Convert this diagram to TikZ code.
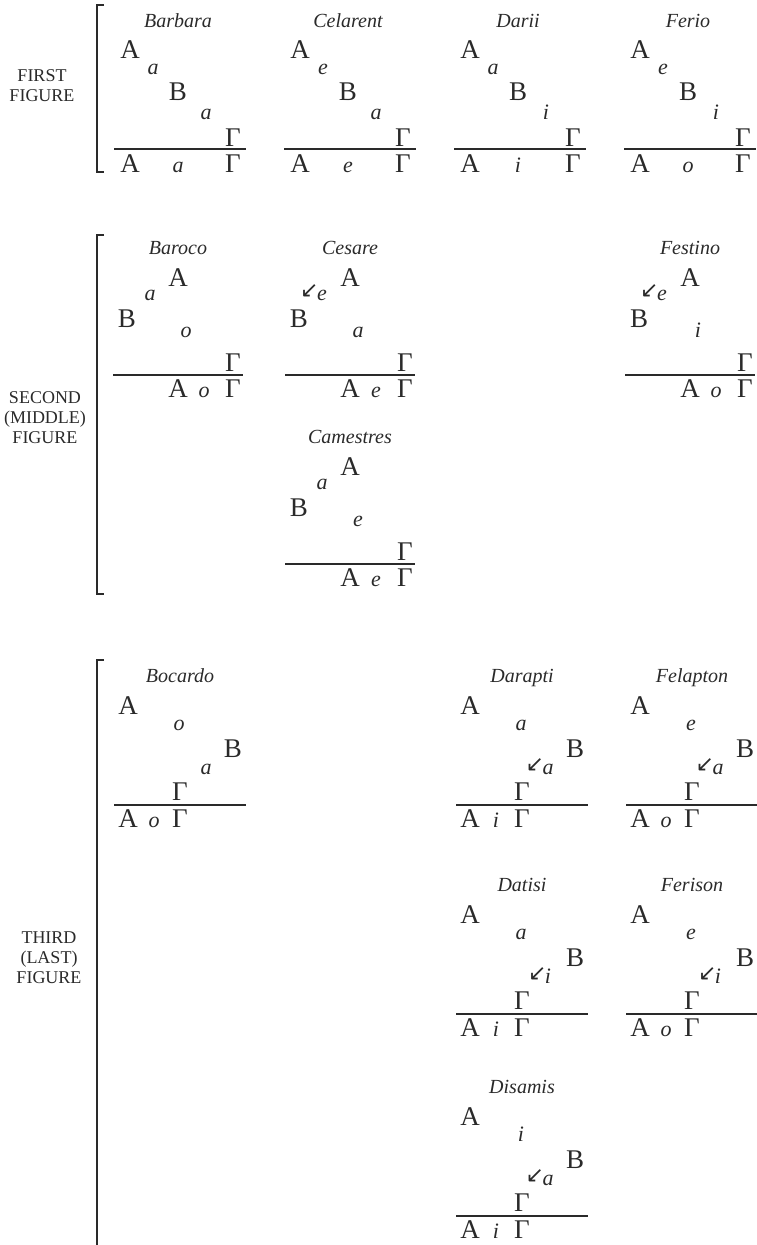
\documentclass[tikz,border=0pt]{standalone}
\usepackage{fontspec}
\setmainfont{Liberation Serif}
\newfontfamily\arrfont{DejaVu Sans}
\definecolor{ink}{HTML}{2A2A2A}

% conversion mark in front of a mood letter
\newcommand{\convmark}[1]{\llap{\raisebox{3pt}{\arrfont\upshape\fontsize{22}{22}\selectfont ↙}\kern-1.5pt}#1}

\tikzset{
    term/.style={inner sep=0pt, text height=18pt, text depth=0pt, font=\fontsize{27}{27}\selectfont},
    mood/.style={inner sep=0pt, text height=10pt, text depth=0pt, font=\fontsize{22}{22}\selectfont\itshape},
    syl/.style={inner sep=0pt, text height=13pt, text depth=0pt, font=\fontsize{20}{20}\selectfont\itshape},
    figname/.style={align=center, inner sep=0pt, font=\fontsize{18}{20}\selectfont},
    rule/.style={line width=1.2pt},
    brack/.style={line width=1.2pt}
}

% first figure: prefix, name, x, major, minor, conclusion
\newcommand{\firstfig}[6]{%
  \begin{scope}[shift={(#3,0)}]
    \node[syl] (#1) at (0,21) {#2};
    \node[term] (#1A) at (-48,49) {Α};
    \node[mood] (#1m) at (-25,69) {#4};
    \node[term] (#1B) at (0,91) {Β};
    \node[mood] (#1n) at (28,114) {#5};
    \node[term] (#1G) at (55,137) {Γ};
    \coordinate (#1l) at (-64,149);
    \coordinate (#1r) at (68,149);
    \draw[rule] (#1l) -- (#1r);
    \node[term] (#1cA) at (-48,163) {Α};
    \node[mood] (#1c) at (0,167) {#6};
    \node[term] (#1cG) at (55,163) {Γ};
  \end{scope}}

% second figure: prefix, name, x, y, major, minor, conclusion
\newcommand{\secondfig}[7]{%
  \begin{scope}[shift={(#3,#4)}]
    \node[syl] (#1) at (0,0) {#2};
    \node[term] (#1A) at (0,29) {Α};
    \node[mood] (#1m) at (-28,47) {#5};
    \node[term] (#1B) at (-51,70) {Β};
    \node[mood] (#1n) at (8,84) {#6};
    \node[term] (#1G) at (55,114) {Γ};
    \coordinate (#1l) at (-65,127);
    \coordinate (#1r) at (65,127);
    \draw[rule] (#1l) -- (#1r);
    \node[term] (#1cA) at (0,140) {Α};
    \node[mood] (#1c) at (26,144) {#7};
    \node[term] (#1cG) at (55,140) {Γ};
  \end{scope}}

% third figure: prefix, name, x, y, major, minor, conclusion
\newcommand{\thirdfig}[7]{%
  \begin{scope}[shift={(#3,#4)}]
    \node[syl] (#1) at (0,0) {#2};
    \node[term] (#1A) at (-52,29) {Α};
    \node[mood] (#1m) at (-1,49) {#5};
    \node[term] (#1B) at (53,72) {Β};
    \node[mood] (#1n) at (26,93) {#6};
    \node[term] (#1G) at (0,115) {Γ};
    \coordinate (#1l) at (-66,129);
    \coordinate (#1r) at (66,129);
    \draw[rule] (#1l) -- (#1r);
    \node[term] (#1cA) at (-52,142) {Α};
    \node[mood] (#1c) at (-26,146) {#7};
    \node[term] (#1cG) at (0,142) {Γ};
  \end{scope}}

\begin{document}
\begin{tikzpicture}[x={(1pt,0)}, y={(0,-1pt)}, color=ink]
\useasboundingbox (0,0) rectangle (756,1245);

% figure names and brackets
\node[figname] (fig1) at (42,86) {FIRST\\FIGURE};
\node[figname] (fig2) at (45,418) {SECOND\\(MIDDLE)\\FIGURE};
\node[figname] (fig3) at (49,958) {THIRD\\(LAST)\\FIGURE};
\draw[brack] (104,5) -- (97,5) -- (97,172) -- (104,172);
\draw[brack] (104,235) -- (97,235) -- (97,594) -- (104,594);
\draw[brack] (104,660) -- (97,660) -- (97,1245);

% first figure
\firstfig{bar}{Barbara}{178}{a}{a}{a}
\firstfig{cel}{Celarent}{348}{e}{a}{e}
\firstfig{dar}{Darii}{518}{a}{i}{i}
\firstfig{fer}{Ferio}{688}{e}{i}{o}

% second figure
\secondfig{bro}{Baroco}{178}{248}{a}{o}{o}
\secondfig{ces}{Cesare}{350}{248}{\convmark{e}}{a}{e}
\secondfig{fes}{Festino}{690}{248}{\convmark{e}}{i}{o}
\secondfig{cam}{Camestres}{350}{437}{a}{e}{e}

% third figure
\thirdfig{boc}{Bocardo}{180}{676}{o}{a}{o}
\thirdfig{dpt}{Darapti}{522}{676}{a}{\convmark{a}}{i}
\thirdfig{fel}{Felapton}{692}{676}{e}{\convmark{a}}{o}
\thirdfig{dat}{Datisi}{522}{885}{a}{\convmark{i}}{i}
\thirdfig{fes2}{Ferison}{692}{885}{e}{\convmark{i}}{o}
\thirdfig{dis}{Disamis}{522}{1087}{i}{\convmark{a}}{i}
\end{tikzpicture}
\end{document}
